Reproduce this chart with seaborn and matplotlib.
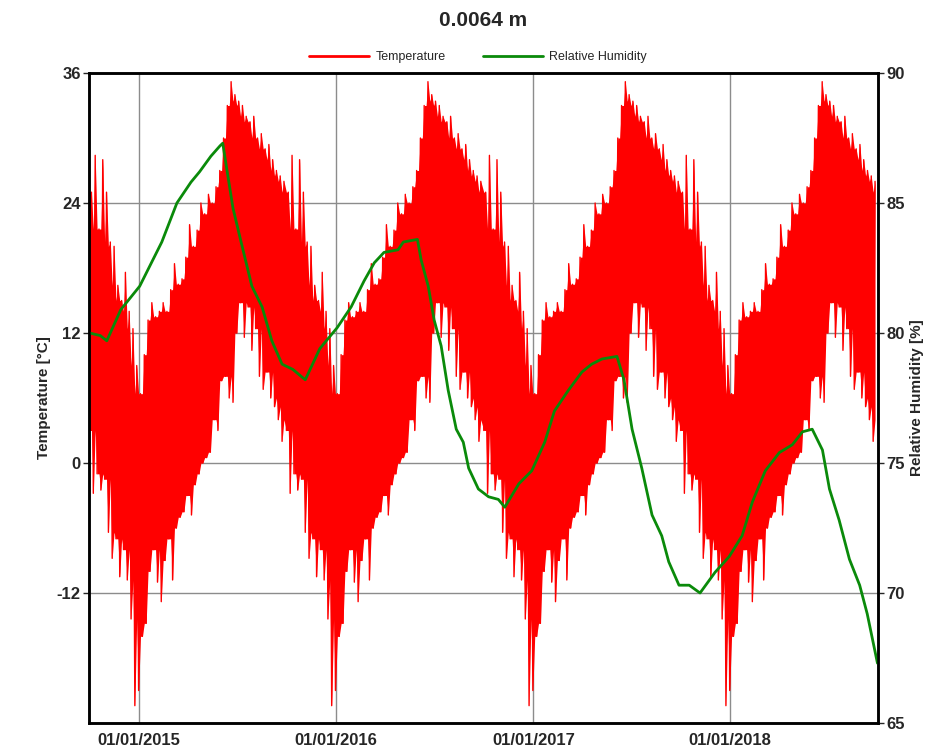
import matplotlib.dates as mdates
import matplotlib.pyplot as plt
import pandas as pd
import seaborn as sns
from matplotlib.lines import Line2D

sns.set_style("ticks")
plt.rcParams["font.family"] = ["Liberation Sans", "DejaVu Sans"]
plt.rcParams["axes.unicode_minus"] = False

# weekly high / low of the temperature record, October -> September.
# the simulation repeats the same weather year, so it is read once.
WEEKLY_HIGH = [25.0, 28.4, 21.6, 28.0, 25.0, 20.4, 20.0, 16.4, 15.0, 17.6,
               14.0, 12.4, 9.0, 6.4, 10.0, 13.2, 14.8, 13.5, 14.0, 14.8,
               14.0, 16.0, 18.4, 16.5, 17.0, 19.0, 22.0, 20.0, 21.5, 24.0,
               23.0, 24.8, 24.0, 25.5, 27.0, 30.0, 33.0, 35.2, 34.0, 33.4,
               33.0, 32.0, 31.5, 32.0, 30.0, 30.4, 29.0, 29.4, 28.0, 27.0,
               26.5, 26.0]
WEEKLY_LOW = [3.0, -2.8, -1.0, -2.5, -1.5, -6.4, -8.8, -7.0, -10.5, -8.0,
              -10.8, -14.4, -22.4, -21.0, -16.0, -14.8, -10.0, -8.0, -11.0, -12.8,
              -9.0, -7.0, -10.8, -6.0, -5.0, -4.5, -3.0, -4.8, -2.0, -1.0,
              0.0, 0.5, 1.0, 4.0, 3.0, 7.6, 8.0, 6.0, 5.6, 12.0,
              14.8, 11.6, 14.4, 10.4, 12.4, 8.0, 6.8, 8.4, 6.0, 5.2,
              4.0, 2.0]
YEAR_STARTS = ["2014-10-01", "2015-10-01", "2016-10-01", "2017-10-01"]

RH_DATES = ["2014-10-01", "2014-10-21", "2014-11-02", "2014-11-28", "2015-01-02",
            "2015-02-12", "2015-03-12", "2015-04-07", "2015-04-23", "2015-05-14",
            "2015-05-31", "2015-06-05", "2015-06-11", "2015-06-24", "2015-07-09",
            "2015-07-29", "2015-08-17", "2015-09-04", "2015-09-23", "2015-10-13",
            "2015-11-05", "2015-12-02", "2016-01-03", "2016-01-29", "2016-02-22",
            "2016-03-12", "2016-03-30", "2016-04-25", "2016-05-05", "2016-05-31",
            "2016-06-07", "2016-06-20", "2016-07-01", "2016-07-14", "2016-07-27",
            "2016-08-11", "2016-08-24", "2016-09-03", "2016-09-21", "2016-10-10",
            "2016-10-28", "2016-11-09", "2016-12-05", "2016-12-29", "2017-01-22",
            "2017-02-09", "2017-03-07", "2017-04-01", "2017-04-19", "2017-05-08",
            "2017-06-05", "2017-06-18", "2017-07-03", "2017-07-21", "2017-08-09",
            "2017-08-27", "2017-09-09", "2017-09-28", "2017-10-17", "2017-11-06",
            "2017-12-04", "2017-12-30", "2018-01-23", "2018-02-11", "2018-03-07",
            "2018-04-02", "2018-04-26", "2018-05-15", "2018-06-02", "2018-06-21",
            "2018-07-04", "2018-07-22", "2018-08-10", "2018-08-29", "2018-09-12",
            "2018-09-22", "2018-10-01"]
RH_VALUES = [80.0, 79.9, 79.7, 80.9, 81.8, 83.5, 85.0, 85.8, 86.2, 86.8,
             87.2, 87.3, 86.5, 84.8, 83.5, 81.8, 81.0, 79.7, 78.8, 78.6,
             78.2, 79.4, 80.2, 81.0, 82.0, 82.7, 83.1, 83.2, 83.5, 83.6,
             82.8, 81.8, 80.5, 79.5, 77.8, 76.3, 75.8, 74.8, 74.0, 73.7,
             73.6, 73.3, 74.2, 74.7, 75.8, 77.0, 77.8, 78.5, 78.8, 79.0,
             79.1, 78.2, 76.3, 74.8, 73.0, 72.2, 71.2, 70.3, 70.3, 70.0,
             70.8, 71.4, 72.2, 73.5, 74.7, 75.4, 75.7, 76.2, 76.3, 75.5,
             74.0, 72.8, 71.3, 70.3, 69.2, 68.2, 67.3]

TEMP_TICKS = [-12, 0, 12, 24, 36]
RH_TICKS = [65, 70, 75, 80, 85, 90]
DATE_TICKS = ["2015-01-01", "2016-01-01", "2017-01-01", "2018-01-01"]

RED = "#ff0000"
GREEN = "#0a8a0a"


def build_temperature() -> pd.DataFrame:
    # spikes alternate low / high; the solid core between them is the
    # range shared by neighbouring weeks
    n = len(WEEKLY_HIGH)
    rows = []
    for start in YEAR_STARTS:
        s = pd.Timestamp(start)
        for i in range(n):
            near = [(i - 1) % n, i, (i + 1) % n]
            core_top = min(WEEKLY_HIGH[j] for j in near)
            core_bot = max(WEEKLY_LOW[j] for j in near)
            rows.append((s + pd.Timedelta(days=7 * i), WEEKLY_LOW[i], WEEKLY_LOW[i], core_top))
            rows.append((s + pd.Timedelta(days=7 * i + 3.5), WEEKLY_HIGH[i], core_bot, WEEKLY_HIGH[i]))
    return pd.DataFrame(rows, columns=["date", "temp", "lower", "upper"])


def main() -> None:
    temp_df = build_temperature()
    rh_df = pd.DataFrame({"date": pd.to_datetime(RH_DATES), "rh": RH_VALUES})

    fig = plt.figure(figsize=(9.45, 7.49), dpi=100)
    ax = fig.add_axes([89 / 945, 1 - 723 / 749, (878 - 89) / 945, (723 - 73) / 749])

    ax.fill_between(temp_df["date"], temp_df["lower"], temp_df["upper"],
                    color=RED, lw=0)
    sns.lineplot(data=temp_df, x="date", y="temp", ax=ax, color=RED, lw=1.0,
                 estimator=None, legend=False)
    ax.set_ylim(-24, 36)
    ax.set_yticks(TEMP_TICKS)
    ax.set_xlim(pd.Timestamp("2014-09-30"), pd.Timestamp("2018-10-02"))
    ax.set_xticks(pd.to_datetime(DATE_TICKS))
    ax.xaxis.set_major_formatter(mdates.DateFormatter("%d/%m/%Y"))
    ax.grid(True, color="#8c8c8c", lw=1)
    ax.set_axisbelow(True)

    ax2 = ax.twinx()
    sns.lineplot(data=rh_df, x="date", y="rh", ax=ax2, color=GREEN, lw=2,
                 estimator=None, legend=False)
    ax2.set_ylim(65, 90)
    ax2.set_yticks(RH_TICKS)

    ax.set_xlabel("")
    ax.set_ylabel("Temperature [°C]", fontsize=11, fontweight="bold", labelpad=4)
    ax2.set_ylabel("Relative Humidity [%]", fontsize=11, fontweight="bold", labelpad=4)

    for a in (ax, ax2):
        for sp in a.spines.values():
            sp.set_linewidth(1.8)
            sp.set_color("black")
        a.tick_params(axis="y", length=4, width=1, labelsize=12, pad=2)
        for lab in a.get_yticklabels():
            lab.set_fontweight("bold")
    ax.tick_params(axis="x", length=0, labelsize=12, pad=7)
    for lab in ax.get_xticklabels():
        lab.set_fontweight("bold")

    fig.suptitle("0.0064 m", x=483 / 945, y=1 - 11 / 749, fontsize=15, fontweight="bold")
    handles = [Line2D([], [], color=RED, lw=2), Line2D([], [], color=GREEN, lw=2)]
    fig.legend(handles, ["Temperature", "Relative Humidity"], loc="center",
               bbox_to_anchor=(478 / 945, 1 - 57 / 749), ncol=2, frameon=False,
               fontsize=9, handlelength=4.8, columnspacing=3.0, handletextpad=0.5)

    fig.savefig("out.png", dpi=100)
    plt.close(fig)


if __name__ == "__main__":
    main()
